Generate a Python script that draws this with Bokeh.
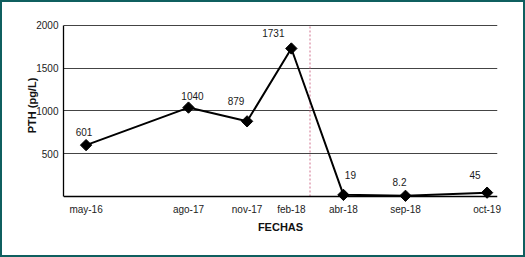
from bokeh.plotting import figure
from bokeh.models import (ColumnDataSource, Range1d, FixedTicker, GlobalInlineStyleSheet, Span)
from bokeh.core.properties import value
from bokeh.embed import file_html
from bokeh.resources import INLINE

# ---- data ----
fechas = ["may-16", "ago-17", "nov-17", "feb-18", "abr-18", "sep-18", "oct-19"]
pth = [601, 1040, 879, 1731, 19, 8.2, 45]
pth_labels = ["601", "1040", "879", "1731", "19", "8.2", "45"]
x_pos = [52, 288, 423, 525, 645, 788, 976]   # category positions along the axis
divider_x = 568                               # dashed line between feb-18 and abr-18
y_ticks = [500, 1000, 1500, 2000]

FONT = "Liberation Sans"

p = figure(width=509, height=241, output_backend="svg", toolbar_location=None,
           x_range=Range1d(0, 1000), y_range=Range1d(-105.3, 2233.9),
           min_border_left=63, min_border_right=12, min_border_top=5, min_border_bottom=36)
p.outline_line_color = None
p.background_fill_color = "white"
p.border_fill_color = "white"
# teal frame around the whole picture (fixed to the window edges)
p.stylesheets = [GlobalInlineStyleSheet(css=(
    "html,body{background:white;}"
    "body::after{content:'';position:fixed;left:0;top:0;right:0;bottom:0;"
    "border:2px solid #0f5f5f;pointer-events:none;z-index:9999;}"))]

ya = p.yaxis[0]
ya.ticker = FixedTicker(ticks=y_ticks)
ya.bounds = (0, max(y_ticks))
ya.major_tick_in = 0
ya.major_tick_out = 0
ya.minor_tick_line_color = None
ya.axis_line_color = "black"
ya.axis_line_width = 1.3
ya.major_label_text_font = FONT
ya.major_label_text_font_size = "10px"
ya.major_label_text_color = "#222222"
ya.major_label_standoff = 5
ya.axis_label = "PTH (pg/L)"
ya.axis_label_text_font = FONT
ya.axis_label_text_font_size = "11px"
ya.axis_label_text_font_style = "bold"
ya.axis_label_text_color = "#111111"
ya.axis_label_standoff = -5

xa = p.xaxis[0]
xa.ticker = FixedTicker(ticks=x_pos)
xa.major_label_overrides = {k: v for k, v in zip(x_pos, fechas)}
xa.major_tick_in = 0
xa.major_tick_out = 0
xa.minor_tick_line_color = None
xa.axis_line_color = None
xa.major_label_text_font = FONT
xa.major_label_text_font_size = "10px"
xa.major_label_text_color = "#222222"
xa.major_label_standoff = -2
xa.axis_label = "FECHAS"
xa.axis_label_text_font = FONT
xa.axis_label_text_font_size = "11px"
xa.axis_label_text_font_style = "bold"
xa.axis_label_text_color = "#111111"
xa.axis_label_standoff = 3

# x axis line at zero
p.add_layout(Span(location=0, dimension="width", line_color="black", line_width=1.3))

p.xgrid.grid_line_color = None
p.ygrid.grid_line_color = "#444444"
p.ygrid.grid_line_width = 1.2

# divider
p.segment(x0=[divider_x], y0=[0], x1=[divider_x], y1=[max(y_ticks)],
          line_color="#d0708e", line_width=1, line_dash="2 2")

src = ColumnDataSource(dict(
    x=x_pos, y=pth, label=pth_labels,
    dx=[-2, 4, -11, -18, 7, -6, -12],
    dy=[-13, -12, -20, -15, -20, -14, -18],
))
p.line("x", "y", source=src, line_color="black", line_width=2)
p.scatter("x", "y", source=src, marker="square", angle=0.785398, size=8,
          fill_color="black", line_color="black")
p.text("x", "y", text="label", x_offset="dx", y_offset="dy", source=src,
       text_align="center", text_baseline="middle",
       text_font=value(FONT), text_font_size="10px", text_color="#1a1a1a")

open("out.html", "w").write(file_html(p, INLINE))
